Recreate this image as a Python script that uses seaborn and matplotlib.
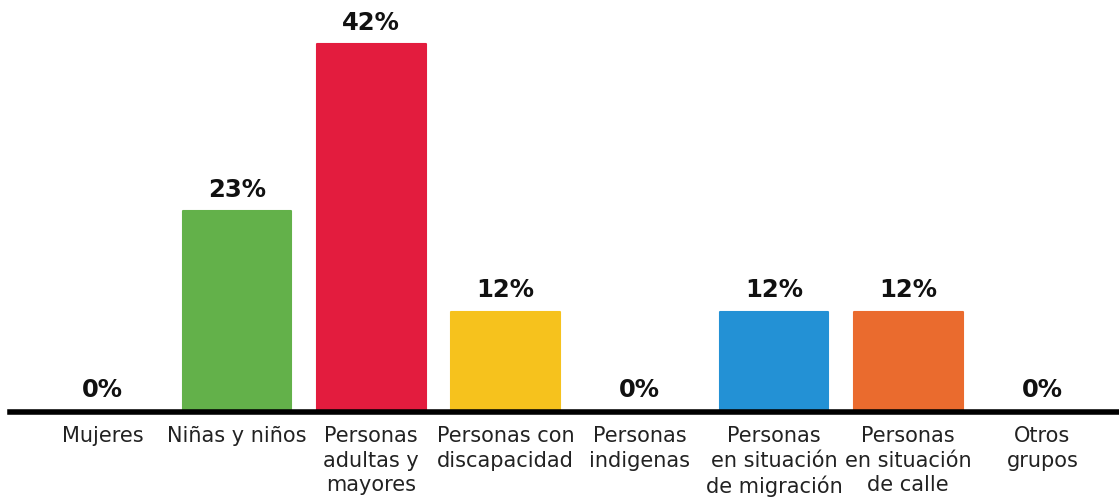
import matplotlib
matplotlib.use("Agg")
import matplotlib.pyplot as plt
import seaborn as sns
import pandas as pd

# data
grupos = ["Mujeres", "Niñas y niños", "Personas\nadultas y\nmayores",
          "Personas con\ndiscapacidad", "Personas\nindigenas",
          "Personas\nen situación\nde migración", "Personas\nen situación\nde calle",
          "Otros\ngrupos"]
porcentajes = [0, 23.1, 42.3, 11.54, 0, 11.54, 11.54, 0]
colores = ["#FFFFFF", "#63B14A", "#E31C3E", "#F6C21D", "#FFFFFF",
           "#2391D5", "#EA6B2E", "#FFFFFF"]

df = pd.DataFrame({"grupo": grupos, "pct": porcentajes})

sns.set_style("white")
plt.rcParams["font.family"] = ["DejaVu Sans"]

fig = plt.figure(figsize=(11.19, 4.99), dpi=100)
ax = fig.add_axes([10 / 1119, 87 / 499, 1 - 10 / 1119, 412 / 499])

sns.barplot(data=df, x="grupo", y="pct", hue="grupo", palette=colores,
            legend=False, width=0.81, ax=ax, saturation=1)

for patch, col in zip(ax.patches, colores):
    patch.set_edgecolor(col)
    patch.set_linewidth(1.5)
    patch.set_joinstyle("round")

for i, v in enumerate(porcentajes):
    ax.text(i, v + 1.1, f"{v:.0f}%", ha="center", va="bottom",
            fontsize=17.5, fontweight="bold", color="#111111")

ax.set_xlim(-0.69, 7.57)
ax.set_ylim(0, 47.4)
ax.set_xlabel("")
ax.set_ylabel("")
ax.set_yticks([])
for s in ["top", "right", "left"]:
    ax.spines[s].set_visible(False)
ax.spines["bottom"].set_linewidth(4)
ax.spines["bottom"].set_color("black")
ax.tick_params(axis="x", length=0, pad=10, labelsize=15, colors="#222222")
for lbl in ax.get_xticklabels():
    lbl.set_linespacing(1.3)

fig.savefig("out.png", dpi=100)
